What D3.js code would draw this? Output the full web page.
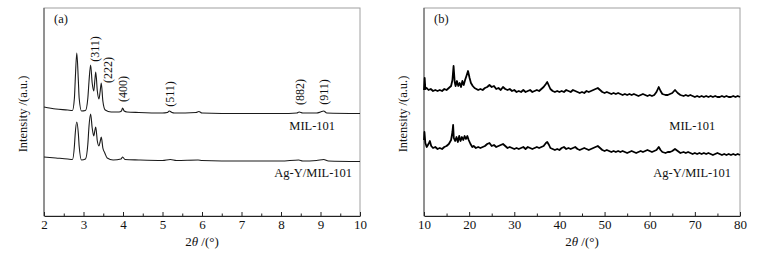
<!DOCTYPE html>
<html>
<head>
<meta charset="utf-8">
<script src="https://cdn.jsdelivr.net/npm/d3@7"></script>
<style>
  body { margin: 0; background: #fff; }
  svg { display: block; font-family: "Liberation Serif", "Times New Roman", serif; }
</style>
</head>
<body>
<div id="container"></div>
<script>
// ---- data (2θ in degrees, intensity in a.u.) ----
// (a) small-angle patterns
const aMilX = [2.0, 2.3, 2.6, 2.72, 2.77, 2.79, 2.83, 2.87, 2.89, 2.95, 3.05, 3.11, 3.14, 3.18, 3.22, 3.26, 3.29, 3.31, 3.35, 3.39, 3.42, 3.45, 3.49, 3.55, 3.7, 3.9, 3.96, 3.99, 4.03, 4.1, 4.4, 5.0, 5.12, 5.17, 5.24, 5.3, 5.85, 5.92, 6.0, 7.0, 8.0, 8.4, 8.46, 8.55, 8.9, 9.0, 9.08, 9.16, 10.0];
const aMilY = [109, 107, 106, 105.5, 118, 135, 163, 135, 118, 105, 105.5, 118, 135, 151, 133, 125, 137, 144, 125, 117, 124, 133, 115, 106, 104, 104, 105, 108, 105, 104, 103.5, 103, 103.5, 105, 103.5, 103, 103.5, 104.5, 103, 102.5, 102.5, 103, 104, 103, 103, 104, 105, 103, 102.5];
const aAgX = [2.0, 2.3, 2.6, 2.72, 2.77, 2.79, 2.83, 2.87, 2.89, 2.95, 3.05, 3.11, 3.14, 3.18, 3.22, 3.26, 3.29, 3.31, 3.35, 3.39, 3.42, 3.45, 3.49, 3.54, 3.6, 3.75, 3.95, 3.99, 4.05, 4.4, 5.0, 5.2, 5.35, 5.9, 6.0, 7.0, 8.0, 8.45, 8.55, 8.9, 9.08, 9.2, 10.0];
const aAgY = [59, 58, 57, 56.5, 70, 82, 94, 82, 70, 56, 57, 72, 90, 102, 88, 80, 86, 89, 75, 70, 74, 79, 68, 63, 58, 56, 57, 59, 56.5, 56, 55.5, 56.5, 55.5, 56, 55.5, 55, 55, 56, 55, 55.5, 56.5, 55, 54.5];

// (b) wide-angle patterns
const bMilX = [10.0, 10.15, 10.3, 10.6, 11.0, 11.5, 12.0, 12.5, 13.0, 13.5, 14.0, 14.5, 15.0, 15.5, 16.0, 16.3, 16.55, 16.8, 17.0, 17.3, 17.6, 17.9, 18.2, 18.5, 18.8, 19.1, 19.4, 19.75, 20.1, 20.4, 20.8, 21.2, 21.6, 22.0, 22.5, 23.0, 23.5, 24.0, 24.5, 25.0, 25.5, 26.0, 26.5, 27.0, 27.5, 28.0, 28.5, 29.0, 29.5, 30.0, 30.5, 31.0, 31.5, 32.0, 32.5, 33.0, 33.5, 34.0, 34.5, 35.0, 35.5, 36.0, 36.5, 37.0, 37.3, 37.7, 38.0, 38.5, 39.0, 39.5, 40.0, 40.5, 41.0, 41.5, 42.0, 42.5, 43.0, 43.5, 44.0, 44.5, 45.0, 45.5, 46.0, 46.5, 47.0, 47.5, 48.0, 48.5, 49.0, 49.5, 50.0, 50.5, 51.0, 51.5, 52.0, 52.5, 53.0, 53.5, 54.0, 54.5, 55.0, 55.5, 56.0, 56.5, 57.0, 57.5, 58.0, 58.5, 59.0, 59.5, 60.0, 60.5, 61.0, 61.5, 62.0, 62.4, 62.8, 63.5, 64.0, 64.5, 65.0, 65.6, 66.2, 66.8, 67.5, 68.0, 68.5, 69.0, 69.5, 70.0, 70.5, 71.0, 71.5, 72.0, 72.5, 73.0, 73.5, 74.0, 74.5, 75.0, 75.5, 76.0, 76.5, 77.0, 77.5, 78.0, 78.5, 79.0, 79.5, 80.0];
const bMilY = [126, 138, 127, 128, 126, 127, 125, 126, 125, 126, 125, 127, 126, 128, 130, 136, 150, 134, 130, 135, 130, 133, 129, 135, 131, 136, 140, 145, 138, 133, 130, 128, 127, 126, 127, 126, 128, 129, 131, 129, 130, 127, 128, 126, 129, 127, 126, 127, 125, 126, 124, 125, 124, 126, 124, 125, 126, 124, 125, 126, 125, 127, 129, 132, 134, 130, 127, 125, 124, 125, 124, 125, 124, 126, 125, 124, 126, 125, 124, 123, 124, 123, 125, 124, 125, 126, 127, 128, 126, 124, 123, 124, 123, 122, 123, 122, 123, 122, 121, 122, 121, 122, 121, 122, 121, 120, 121, 122, 121, 120, 121, 120, 121, 124, 129, 125, 122, 121, 121, 122, 123, 126, 123, 121, 120, 121, 120, 121, 120, 119, 120, 119, 120, 119, 120, 119, 120, 119, 120, 119, 119, 120, 119, 120, 119, 119, 120, 119, 120, 119];
const bAgX = [10.0, 10.1, 10.3, 10.6, 11.0, 11.3, 11.6, 12.0, 12.5, 13.0, 13.5, 14.0, 14.5, 15.0, 15.5, 16.0, 16.3, 16.45, 16.6, 16.9, 17.2, 17.5, 17.8, 18.1, 18.4, 18.7, 19.0, 19.3, 19.6, 19.9, 20.3, 20.7, 21.0, 21.5, 22.0, 22.5, 23.0, 23.5, 24.0, 24.5, 25.0, 25.5, 26.0, 26.5, 27.0, 27.5, 28.0, 28.5, 29.0, 29.5, 30.0, 30.5, 31.0, 31.5, 32.0, 32.5, 33.0, 33.5, 34.0, 34.5, 35.0, 35.5, 36.0, 36.5, 37.0, 37.3, 37.7, 38.0, 38.5, 39.0, 39.5, 40.0, 40.5, 41.0, 41.5, 42.0, 42.5, 43.0, 43.5, 44.0, 44.5, 45.0, 45.5, 46.0, 46.5, 47.0, 47.5, 48.0, 48.5, 49.0, 49.5, 50.0, 50.5, 51.0, 51.5, 52.0, 52.5, 53.0, 53.5, 54.0, 54.5, 55.0, 55.5, 56.0, 56.5, 57.0, 57.5, 58.0, 58.5, 59.0, 59.5, 60.0, 60.5, 61.0, 61.5, 62.0, 62.4, 62.8, 63.5, 64.0, 64.5, 65.0, 65.6, 66.2, 66.8, 67.5, 68.0, 68.5, 69.0, 69.5, 70.0, 70.5, 71.0, 71.5, 72.0, 72.5, 73.0, 73.5, 74.0, 74.5, 75.0, 75.5, 76.0, 76.5, 77.0, 77.5, 78.0, 78.5, 79.0, 79.5, 80.0];
const bAgY = [76, 84, 73, 69, 72, 75, 70, 68, 69, 67, 68, 67, 69, 70, 72, 76, 84, 91, 78, 75, 79, 74, 80, 75, 79, 76, 80, 77, 80, 76, 72, 69, 70, 68, 69, 68, 69, 70, 72, 73, 70, 71, 69, 70, 71, 72, 70, 68, 69, 68, 67, 68, 67, 68, 69, 67, 69, 68, 67, 68, 69, 68, 69, 70, 73, 74, 71, 68, 67, 66, 67, 66, 68, 69, 67, 68, 67, 68, 69, 67, 66, 67, 68, 67, 66, 67, 68, 69, 70, 68, 66, 65, 66, 65, 64, 65, 64, 65, 64, 65, 64, 63, 64, 65, 64, 63, 64, 65, 64, 65, 66, 65, 64, 65, 66, 69, 66, 64, 63, 64, 64, 65, 67, 65, 63, 64, 63, 64, 63, 62, 63, 62, 63, 62, 63, 62, 63, 62, 61, 62, 63, 62, 61, 62, 61, 62, 61, 62, 61, 62, 61];

// peak indices (Miller) for panel (a): label text, anchor 2θ, anchor intensity
const hklText = ["(311)", "(222)", "(400)", "(511)", "(882)", "(911)"];
const hklX = [3.29, 3.62, 3.99, 5.19, 8.48, 9.09];
const hklY = [167, 146, 127, 122, 124, 124];

const sampleNames = ["MIL-101", "Ag-Y/MIL-101"];

// ---- layout ----
const width = 763, height = 254;
const svg = d3.select("#container").append("svg")
  .attr("width", width).attr("height", height)
  .attr("viewBox", [0, 0, width, height]);

const plotTop = 8, plotBottom = 216;
const yScale = d3.scaleLinear([0, 208], [plotBottom, plotTop]);

function panel({ left, right, domain, major, minor, tag, series, curve, names, nameX }) {
  const x = d3.scaleLinear(domain, [left, right]);
  const g = svg.append("g");

  // frame
  g.append("rect")
    .attr("x", left).attr("y", plotTop)
    .attr("width", right - left).attr("height", plotBottom - plotTop)
    .attr("fill", "none").attr("stroke", "#a0a0a0").attr("stroke-width", 1);
  g.append("line")
    .attr("x1", left).attr("x2", left).attr("y1", plotTop).attr("y2", plotBottom)
    .attr("stroke", "#555");

  // minor ticks
  g.append("g")
    .attr("transform", `translate(0,${plotBottom})`)
    .call(d3.axisBottom(x).tickValues(minor).tickSize(-2.5).tickFormat(""))
    .call(a => a.select(".domain").remove())
    .call(a => a.selectAll("line").attr("stroke", "#222"));

  // major ticks + labels
  g.append("g")
    .attr("transform", `translate(0,${plotBottom})`)
    .call(d3.axisBottom(x).tickValues(major).tickSizeInner(-4).tickSizeOuter(0).tickPadding(4).tickFormat(d3.format("d")))
    .call(a => a.select(".domain").attr("stroke", "#222"))
    .call(a => a.selectAll("line").attr("stroke", "#222"))
    .call(a => a.selectAll("text")
      .attr("font-family", "Liberation Serif").attr("font-size", 13).attr("fill", "#111"));

  // axis titles
  const xt = g.append("text")
    .attr("x", (left + right) / 2).attr("y", 246)
    .attr("text-anchor", "middle").attr("font-size", 13).attr("fill", "#111");
  xt.append("tspan").text("2");
  xt.append("tspan").attr("font-style", "italic").text("θ");
  xt.append("tspan").text(" /(°)");

  g.append("text")
    .attr("transform", `translate(${left - 17},${(plotTop + plotBottom) / 2 + 2}) rotate(-90)`)
    .attr("text-anchor", "middle").attr("font-size", 12.5).attr("fill", "#111")
    .text("Intensity /(a.u.)");

  g.append("text")
    .attr("x", left + 10).attr("y", 23)
    .attr("font-size", 12.5).attr("fill", "#111")
    .text(tag);

  // patterns
  const line = d3.line()
    .curve(curve)
    .x(d => x(d[0]))
    .y(d => yScale(d[1]));

  series.forEach(s => {
    g.append("path")
      .datum(d3.zip(s.x, s.y))
      .attr("fill", "none")
      .attr("stroke", s.color)
      .attr("stroke-width", s.width)
      .attr("stroke-linejoin", "round")
      .attr("d", line);
  });

  // sample names
  g.append("g")
    .attr("font-size", 12.5).attr("fill", "#111").attr("text-anchor", "end")
    .selectAll("text")
    .data(names)
    .join("text")
    .attr("x", (d, i) => x(nameX[i]))
    .attr("y", (d, i) => yScale([86, 39][i]))
    .text(d => d);

  return x;
}

const xa = panel({
  left: 44, right: 360, domain: [2, 10],
  major: d3.range(2, 11, 1), minor: d3.range(2.5, 10, 1),
  tag: "(a)",
  curve: d3.curveMonotoneX,
  series: [
    { x: aMilX, y: aMilY, color: "#1a1a1a", width: 1.1 },
    { x: aAgX, y: aAgY, color: "#1a1a1a", width: 1.1 }
  ],
  names: sampleNames, nameX: [9.37, 9.8]
});

// Miller index labels, rotated
svg.append("g")
  .attr("font-size", 12).attr("fill", "#111").attr("text-anchor", "middle")
  .selectAll("text")
  .data(hklText)
  .join("text")
  .attr("transform", (d, i) => `translate(${xa(hklX[i]) + 4},${yScale(hklY[i])}) rotate(-90)`)
  .text(d => d);

panel({
  left: 424, right: 740, domain: [10, 80],
  major: d3.range(10, 81, 10), minor: d3.range(15, 80, 10),
  tag: "(b)",
  curve: d3.curveLinear,
  series: [
    { x: bMilX, y: bMilY, color: "#000", width: 1.8 },
    { x: bAgX, y: bAgY, color: "#000", width: 1.8 }
  ],
  names: sampleNames, nameX: [74.5, 78]
});
</script>
</body>
</html>
